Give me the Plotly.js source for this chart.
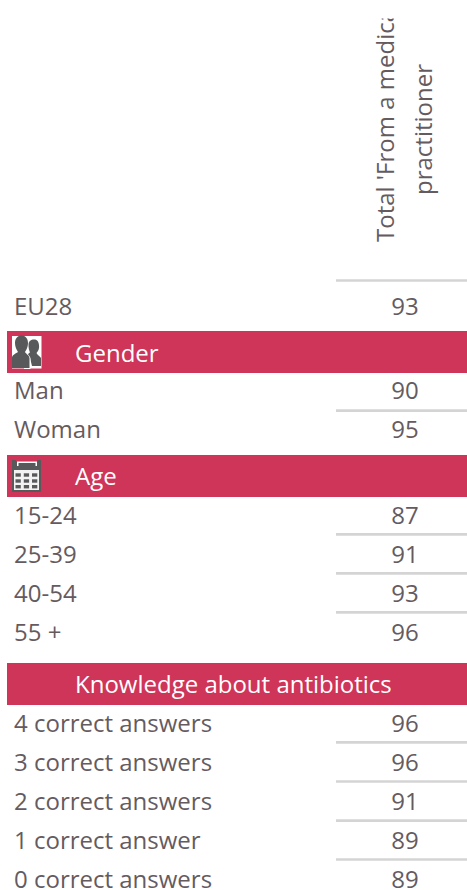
<!DOCTYPE html>
<html><head><meta charset="utf-8">
<script src="https://cdn.plot.ly/plotly-3.0.1.min.js"></script>
<style>html,body{margin:0;padding:0;background:#fff}#c{width:467px;height:890px}</style>
</head><body><div id="c"></div>
<script>
const rowLabels = ["EU28","Man","Woman","15-24","25-39","40-54","55 +","4 correct answers","3 correct answers","2 correct answers","1 correct answer","0 correct answers"];
const rowValues = [93,90,95,87,91,93,96,96,96,91,89,89];
const rowY = [309,393,432,518,557,596,635,726,765,804,843,882];
const ruleY = [280.5,410.7,534.3,573.3,612.3,742.3,781.5,820.7,859.5];
const bandNames = ["Gender","Age","Knowledge about antibiotics"];
const bandTop = [331,455,663];
const bandBottom = [373,497,705];
const bandLabelX = [75,75,75];
const headerLines = ["Total 'From a medical","practitioner"];
const headerX = [384,422];
const headerY = [123,130];

const ink = "#655b5f", crimson = "#cf3459", rule = "#d4d4d4", dark = "#58595b";
const font = "'Open Sans', sans-serif";

const shapes = [];
bandTop.forEach((t,i)=>shapes.push({type:"rect",layer:"below",x0:7,x1:467,y0:t,y1:bandBottom[i],fillcolor:crimson,line:{width:0}}));
ruleY.forEach(y=>shapes.push({type:"line",layer:"below",x0:336,x1:467,y0:y,y1:y,line:{color:rule,width:2.7}}));

// gender icon
const D = dark;
shapes.push({type:"rect",x0:12,x1:41.5,y0:336,y1:368.5,fillcolor:"#ffffff",line:{width:0}});
shapes.push({type:"path",fillcolor:D,line:{width:0},path:"M41 366 L41 358 C40 356 37 355 36.5 353 C38.5 351 39.5 348 39 345 C38.5 341 37 339.5 34 339.5 C31 339.5 28.5 341 28.5 345 C28.5 348 29 350 30 352.5 C27 354 28 356 30 358 L32 366 Z"});
shapes.push({type:"path",fillcolor:"#ffffff",line:{width:0},path:"M30.5 369 L30.5 358 C29 355 27.5 354 26 352.5 L24 352 L24 369 Z"});
shapes.push({type:"path",fillcolor:D,line:{width:0},path:"M29.5 368 L29.5 358 C29 355 26 354 25 352 C27 349 28 346 28 343 C28 338 25 335.5 21.5 335.5 C18 335.5 15 338 15 343 C15 346 16 349 18 352 C15 354 12 355 12 358 L12 368 Z"});
// calendar icon
shapes.push({type:"rect",x0:12,x1:41,y0:460,y1:492,fillcolor:D,line:{width:0}});
shapes.push({type:"rect",x0:14,x1:39,y0:470,y1:490,fillcolor:"#f2f2f2",line:{width:0}});
shapes.push({type:"rect",x0:16,x1:37,y0:460,y1:461.5,fillcolor:crimson,line:{width:0}});
[[17,37,461.5,463],[17,18.5,463,466],[35.5,37,463,466]].forEach(r=>shapes.push({type:"rect",x0:r[0],x1:r[1],y0:r[2],y1:r[3],fillcolor:"#ffffff",line:{width:0}}));
[473.3,479.3,485].forEach(y=>[15.5,23.8,32].forEach(x=>shapes.push({type:"rect",x0:x,x1:x+5.3,y0:y,y1:y+3.4,fillcolor:D,line:{width:0}})));

const annotations = headerLines.map((t,i)=>({x:headerX[i],y:headerY[i],xref:"x",yref:"y",text:t,textangle:-90,showarrow:false,font:{family:font,size:24,color:ink},xanchor:"center",yanchor:"middle"}));
// the reference crops the long header at its top edge
annotations.push({x:384,y:8.5,xref:"x",yref:"y",text:" ",showarrow:false,width:60,height:17,bgcolor:"#ffffff",xanchor:"center",yanchor:"middle"});

const bandTextY = bandTop.map((t,i)=>(t+bandBottom[i])/2+(i===0?3.5:2.5));
const data = [
 {type:"scatter",mode:"text",x:rowLabels.map(()=>14),y:rowY,text:rowLabels,textposition:"middle right",textfont:{family:font,size:24,color:ink},hoverinfo:"skip"},
 {type:"scatter",mode:"text",x:rowValues.map(()=>405),y:rowY,text:rowValues.map(String),textposition:"middle center",textfont:{family:font,size:24,color:ink},hoverinfo:"skip"},
 {type:"scatter",mode:"text",x:bandLabelX,y:bandTextY,text:bandNames,textposition:"middle right",textfont:{family:font,size:24,color:"#ffffff"},hoverinfo:"skip"}
];
Plotly.newPlot("c",data,{
 width:467,height:890,margin:{l:0,r:0,t:0,b:0},showlegend:false,
 paper_bgcolor:"#fff",plot_bgcolor:"#fff",
 xaxis:{range:[0,467],visible:false,fixedrange:true},
 yaxis:{range:[890,0],visible:false,fixedrange:true},
 shapes,annotations
},{displayModeBar:false,staticPlot:true});
</script></body></html>
